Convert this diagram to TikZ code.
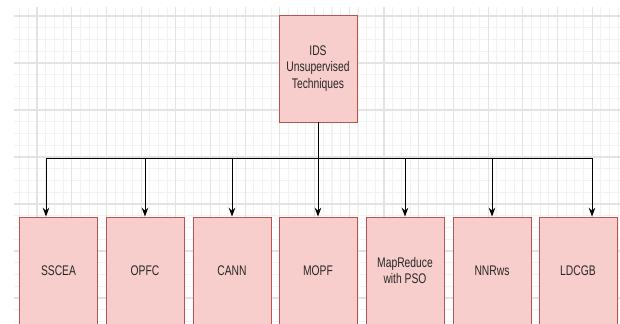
\documentclass[tikz,border=0pt]{standalone}
\usepackage{fontspec}
\newfontfamily\boxfont[FakeStretch=0.74]{Liberation Sans}
\usetikzlibrary{arrows.meta}
\definecolor{boxfill}{HTML}{F8CECC}
\definecolor{boxline}{HTML}{B85450}

\begin{document}
\begin{tikzpicture}[
		x=0.03cm, y=-0.03cm,
		box/.style={align=center, draw=boxline, fill=boxfill, line width=0.8pt, minimum width=2.34cm, minimum height=3.21cm, inner sep=0pt, text=black!85, font=\boxfont\fontsize{11.9}{13.9}\selectfont},
		arrow/.style={-{Stealth[length=7.5pt, width=5.6pt]}, line width=0.8pt},
		busline/.style={line width=0.8pt},
		minorgrid/.style={draw=black!5, line width=0.9pt},
		majorgrid/.style={draw=black!11, line width=0.9pt},
	]
	\useasboundingbox (0,0) rectangle (620,323);
	\clip (0,0) rectangle (620,323);
	\fill[white] (0,0) rectangle (620,323);

	% background grid
	\begin{scope}[shift={(2.3,4.25)}]
		\draw[minorgrid, xstep=0.26025cm, ystep=0.3525cm] (11.7,2.75) grid (618,319);
	\end{scope}
	\begin{scope}[shift={(2.3,16)}]
		\draw[majorgrid, xstep=1.041cm, ystep=1.41cm] (11.7,-9) grid (618,307);
	\end{scope}

	\node[box] (ids)    at (318, 68.5)  {IDS\\Unsupervised\\Techniques};
	\node[box] (sscea)  at (58.5, 270.5) {SSCEA};
	\node[box] (opfc)   at (145, 270.5)  {OPFC};
	\node[box] (cann)   at (232, 270.5)  {CANN};
	\node[box] (mopf)   at (318, 270.5)  {MOPF};
	\node[box] (mapred) at (405, 270.5)  {MapReduce\\with PSO};
	\node[box] (nnrws)  at (492, 270.5)  {NNRws};
	\node[box] (ldcgb)  at (578, 270.5)  {LDCGB};

	\coordinate (busL) at (46, 158);
	\coordinate (busR) at (592, 158);

	\draw[busline] (ids) -- (ids |- busL);
	\draw[busline] (busL) -- (busR);

	\draw[arrow] (busL) -- (busL |- sscea.north);
	\draw[arrow] (opfc.north |- busL)   -- (opfc.north);
	\draw[arrow] (cann.north |- busL)   -- (cann.north);
	\draw[arrow] (mopf.north |- busL)   -- (mopf.north);
	\draw[arrow] (mapred.north |- busL) -- (mapred.north);
	\draw[arrow] (nnrws.north |- busL)  -- (nnrws.north);
	\draw[arrow] (busR) -- (busR |- ldcgb.north);
\end{tikzpicture}
\end{document}
